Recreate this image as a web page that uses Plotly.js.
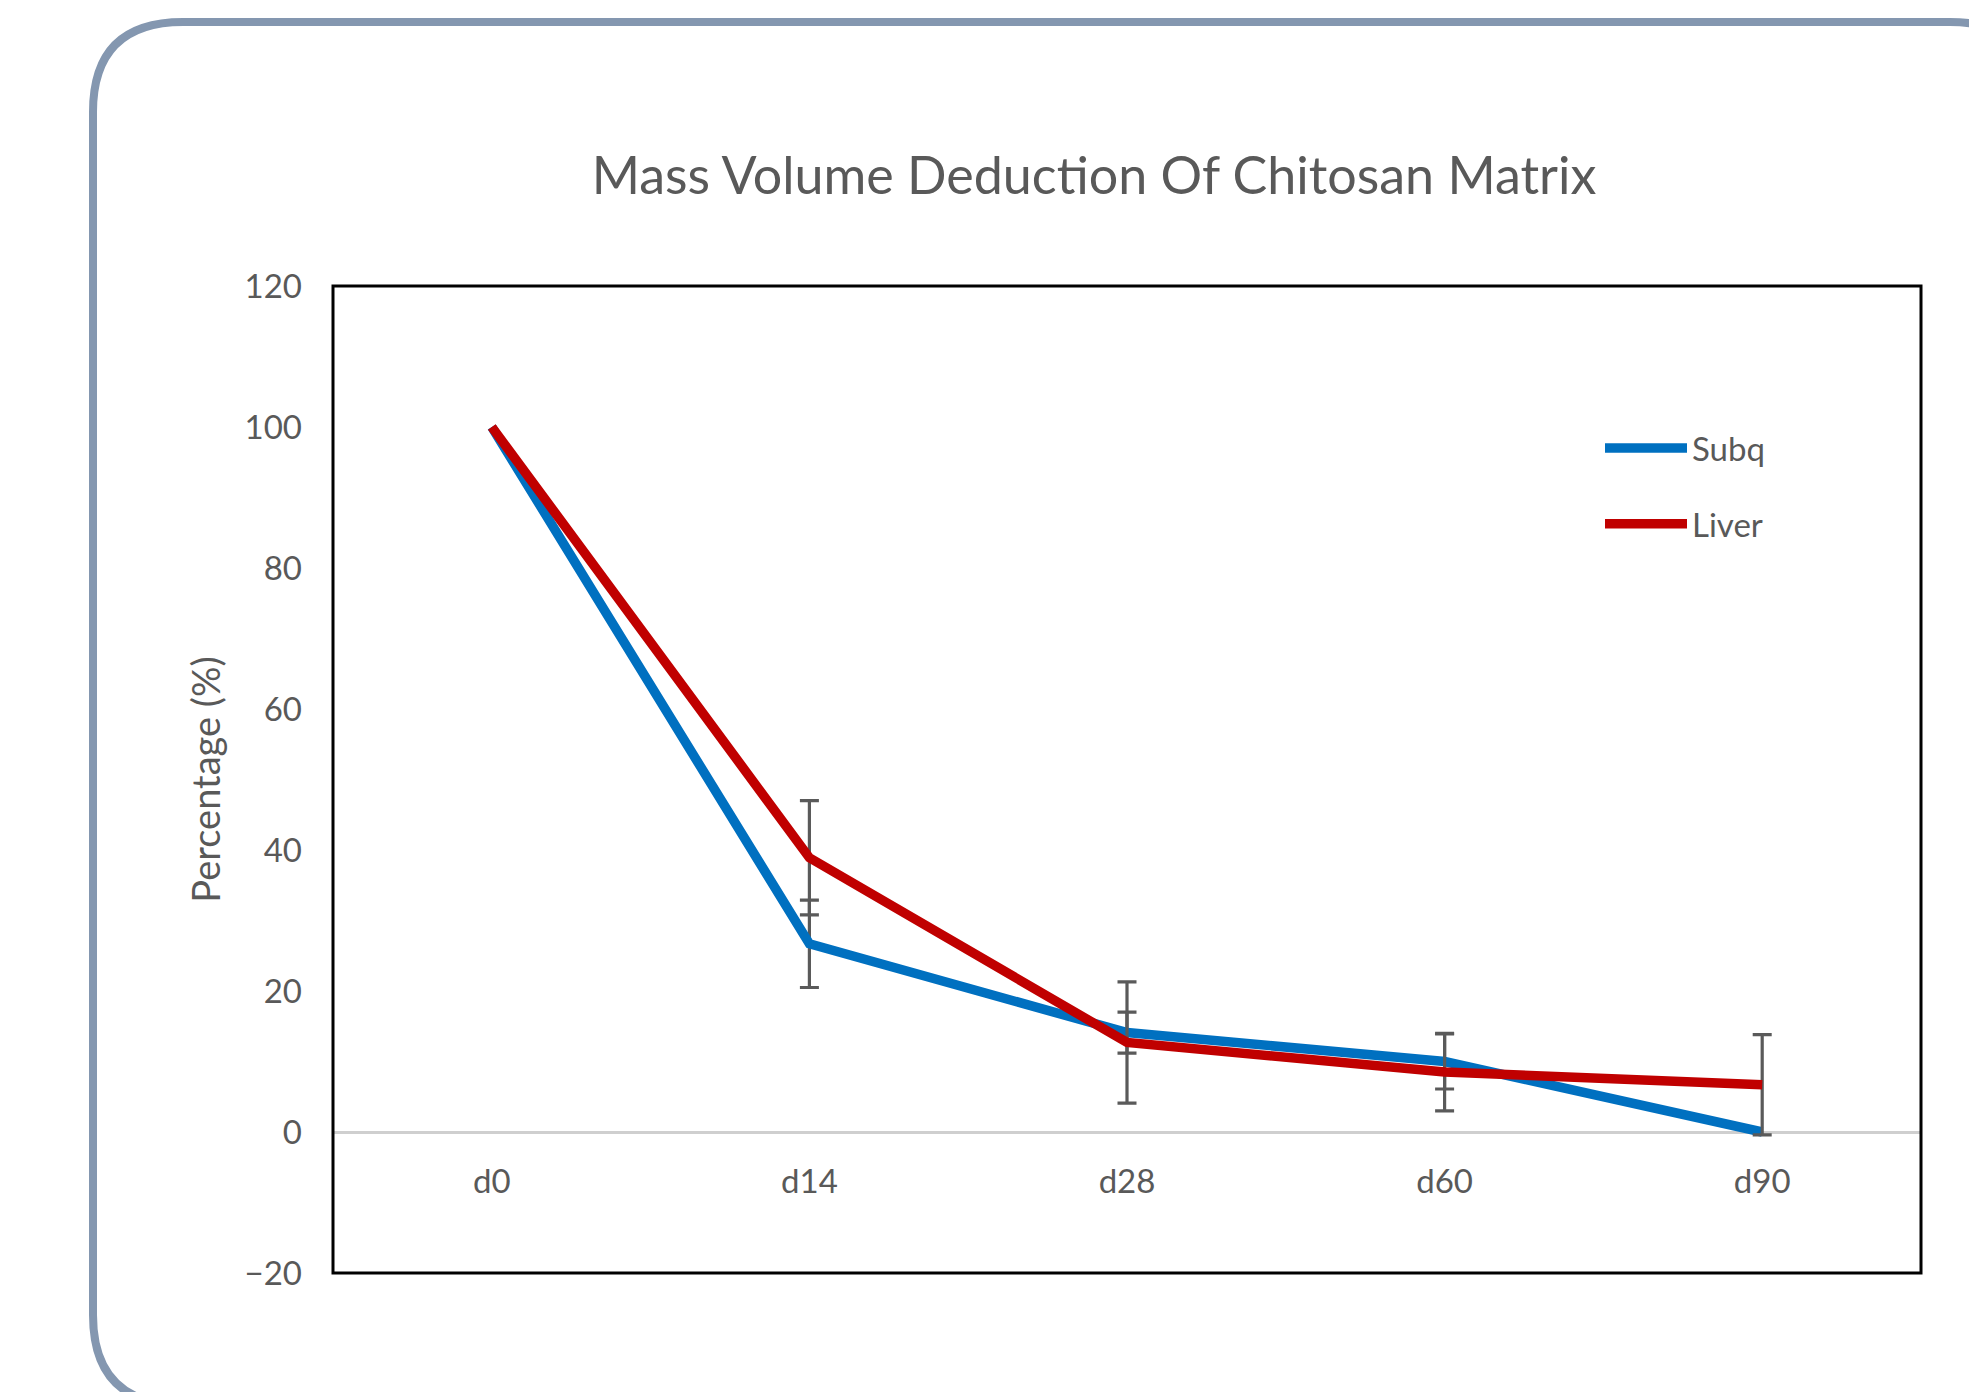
<!DOCTYPE html>
<html>
<head>
<meta charset="utf-8">
<script src="https://cdn.plot.ly/plotly-3.0.1.min.js"></script>
<style>
  html, body { margin: 0; padding: 0; background: #ffffff; }
  #chart { width: 1969px; height: 1392px; }
</style>
</head>
<body>
<div id="chart"></div>
<script>
// ---- Data ----
const categories = ['d0', 'd14', 'd28', 'd60', 'd90'];
const subqValues = [100, 26.7, 14.1, 10.0, 0];
const liverValues = [100, 38.9, 12.7, 8.5, 6.7];
const subqErrors = [NaN, 6.2, 2.9, 3.9, NaN];
const liverErrors = [NaN, 8.1, 8.6, 5.5, 7.1];
const yTickValues = [-20, 0, 20, 40, 60, 80, 100, 120];

// ---- Layout geometry ----
const W = 1969, H = 1392;
const M = { l: 333, r: 48, t: 286, b: 119 };
const plotW = W - M.l - M.r, plotH = H - M.t - M.b;
const px = x => (x - M.l) / plotW;
const py = y => (H - M.b - y) / plotH;

// rounded decorative frame (pixel coords -> paper coords)
const fl = 93, ft = 22, fr = 2040, fb = 1405, rad = 90;
const framePath =
  `M ${px(fl + rad)},${py(ft)} L ${px(fr - rad)},${py(ft)} ` +
  `Q ${px(fr)},${py(ft)} ${px(fr)},${py(ft + rad)} L ${px(fr)},${py(fb - rad)} ` +
  `Q ${px(fr)},${py(fb)} ${px(fr - rad)},${py(fb)} L ${px(fl + rad)},${py(fb)} ` +
  `Q ${px(fl)},${py(fb)} ${px(fl)},${py(fb - rad)} L ${px(fl)},${py(ft + rad)} ` +
  `Q ${px(fl)},${py(ft)} ${px(fl + rad)},${py(ft)} Z`;

const fontFam = 'Lato, Carlito, "Open Sans", sans-serif';
const gray = '#595959';
const errStyle = { color: '#5a5a5a', thickness: 3.2, width: 9.5 };

const traces = [
  {
    type: 'scatter', mode: 'lines', name: 'Subq', legendgroup: 'a',
    x: categories, y: subqValues,
    line: { color: '#0070C0', width: 9.5 },
    error_y: Object.assign({ type: 'data', array: subqErrors, visible: true }, errStyle),
    hoverinfo: 'x+y'
  },
  {
    type: 'scatter', mode: 'lines', name: 'Liver', legendgroup: 'b',
    x: categories, y: liverValues,
    line: { color: '#C00000', width: 9.5 },
    error_y: Object.assign({ type: 'data', array: liverErrors, visible: true }, errStyle),
    hoverinfo: 'x+y'
  }
];

const yMin = -20, yMax = 120;

const layout = {
  width: W, height: H,
  margin: M,
  paper_bgcolor: 'rgba(0,0,0,0)',
  plot_bgcolor: '#ffffff',
  font: { family: fontFam, color: gray, size: 33 },
  title: {
    text: 'Mass Volume Deduction Of Chitosan Matrix',
    font: { family: fontFam, size: 52, color: gray },
    xref: 'container', yref: 'container',
    x: 1094 / W, y: 1 - 176 / H, xanchor: 'center', yanchor: 'middle'
  },
  xaxis: {
    type: 'category',
    range: [-0.5, categories.length - 0.5],
    anchor: 'free',
    position: (0 - yMin) / (yMax - yMin),
    showline: false, showgrid: false, zeroline: false,
    ticks: '',
    ticklabelstandoff: 27,
    tickfont: { family: fontFam, size: 33, color: gray },
    fixedrange: true
  },
  yaxis: {
    range: [yMin, yMax],
    tickvals: yTickValues,
    showgrid: false,
    showline: false,
    zeroline: true, zerolinecolor: '#cfcfcf', zerolinewidth: 3,
    ticks: '',
    ticklabelstandoff: 30,
    tickfont: { family: fontFam, size: 33, color: gray },
    title: { text: 'Percentage (%)', font: { family: fontFam, size: 38, color: gray }, standoff: 12 },
    automargin: false,
    fixedrange: true
  },
  showlegend: true,
  legend: {
    x: px(1600), y: py(420), xanchor: 'left', yanchor: 'top',
    traceorder: 'grouped', tracegroupgap: 30,
    itemwidth: 82,
    font: { family: fontFam, size: 33, color: gray },
    bgcolor: 'rgba(0,0,0,0)'
  },
  shapes: [
    {
      type: 'path', xref: 'paper', yref: 'paper', path: framePath,
      line: { color: '#8497B0', width: 8 }, fillcolor: 'rgba(0,0,0,0)', layer: 'below'
    },
    {
      type: 'rect', xref: 'paper', yref: 'paper', x0: 0, x1: 1, y0: 0, y1: 1,
      line: { color: '#000000', width: 3 }, layer: 'above'
    }
  ]
};

Plotly.newPlot('chart', traces, layout, { displayModeBar: false, staticPlot: true });
</script>
</body>
</html>
